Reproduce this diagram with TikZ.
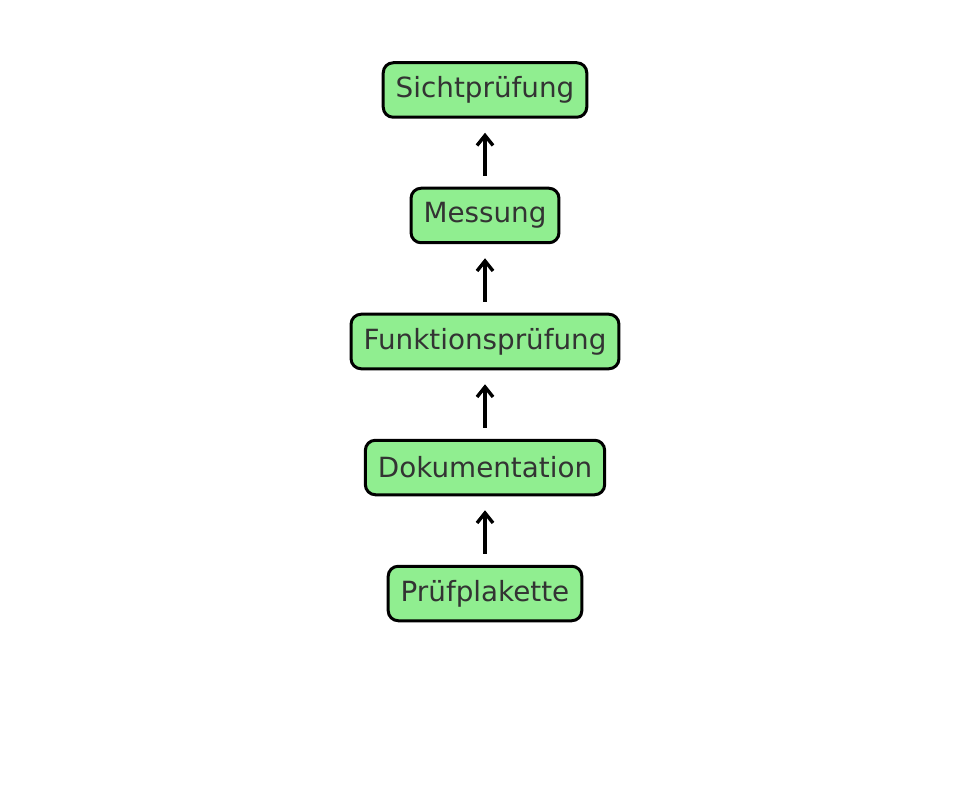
\documentclass[tikz,border=0pt]{standalone}
\usepackage{fontspec}
\setmainfont{DejaVu Sans}
\usetikzlibrary{arrows.meta}
\definecolor{boxgreen}{HTML}{90EE90}
\definecolor{txtgray}{HTML}{333333}
\begin{document}
\begin{tikzpicture}[x=1pt,y=-1pt,
  stepbox/.style={draw=black, line width=3pt, fill=boxgreen, rounded corners=10pt,
    text=txtgray, font=\fontsize{27.8}{32}\selectfont, minimum height=54.5pt, inner xsep=12.5pt, anchor=center},
  flow/.style={line width=3.4pt, -{Straight Barb[length=10pt,width=16pt,line width=3.4pt]}, shorten <=11pt, shorten >=14pt}]
\useasboundingbox (0,0) rectangle (969,810);
\node[stepbox] (s1) at (485,90) {Sichtprüfung};
\node[stepbox] (s2) at (485,215.5) {Messung};
\node[stepbox] (s3) at (485,341.5) {Funktionsprüfung};
\node[stepbox] (s4) at (485,467.5) {Dokumentation};
\node[stepbox] (s5) at (485,593.5) {Prüfplakette};
\draw[flow] (s2) -- (s1);
\draw[flow] (s3) -- (s2);
\draw[flow] (s4) -- (s3);
\draw[flow] (s5) -- (s4);
\end{tikzpicture}
\end{document}
